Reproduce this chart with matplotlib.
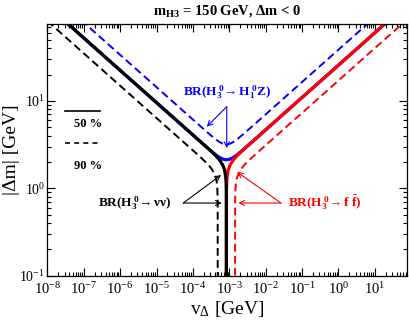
import numpy as np
import matplotlib
matplotlib.use('Agg')
import matplotlib.pyplot as plt
from matplotlib.ticker import LogLocator, NullFormatter

plt.rcParams['font.family'] = ['Liberation Serif', 'DejaVu Serif']
plt.rcParams['mathtext.fontset'] = 'custom'
plt.rcParams['mathtext.rm'] = 'Liberation Serif'
plt.rcParams['mathtext.it'] = 'Liberation Serif:italic'
plt.rcParams['mathtext.bf'] = 'Liberation Serif:bold'

## BR contours (v_Delta [GeV], |dm| [GeV])
nn50_v  = [3.31e-8, 8.32e-8, 8.32e-7, 8.32e-6, 8.32e-5, 1.66e-4, 2.63e-4, 4.17e-4, 5.25e-4, 6.61e-4, 7.41e-4, 7.94e-4, 8.13e-4, 8.26e-4, 8.32e-4]
nn50_dm = [79.4, 56.4, 24.0, 10.25, 4.37, 3.38, 2.85, 2.38, 2.14, 1.85, 1.62, 1.36, 1.20, 0.96, 0.1]
nn90_v  = [1.0e-8, 8.32e-8, 8.32e-7, 8.32e-6, 8.32e-5, 1.66e-4, 2.09e-4, 2.63e-4, 3.31e-4, 4.17e-4, 4.47e-4, 4.57e-4, 4.68e-4, 4.73e-4, 4.79e-4, 4.80e-4]
nn90_dm = [82.4, 37.6, 16.0, 6.82, 2.91, 2.25, 2.05, 1.87, 1.66, 1.37, 1.21, 1.125, 1.00, 0.90, 0.68, 0.1]

ff50_v  = [8.32e-4, 8.38e-4, 8.51e-4, 8.71e-4, 9.33e-4, 1.047e-3, 1.318e-3, 1.660e-3, 2.630e-3, 4.17e-3, 8.32e-3, 8.32e-2, 0.832, 8.32, 20.9]
ff50_dm = [0.1, 0.96, 1.20, 1.36, 1.62, 1.85, 2.14, 2.38, 2.85, 3.38, 4.37, 10.25, 24.0, 56.4, 79.4]
ff90_v  = [1.44e-3, 1.445e-3, 1.462e-3, 1.479e-3, 1.514e-3, 1.549e-3, 1.660e-3, 2.089e-3, 2.630e-3, 3.311e-3, 4.17e-3, 8.32e-3, 8.32e-2, 0.832, 8.32, 83.2]
ff90_dm = [0.1, 0.68, 0.90, 1.00, 1.125, 1.21, 1.37, 1.66, 1.87, 2.05, 2.25, 2.91, 6.82, 16.0, 37.6, 88.0]

hz50_v  = [3.31e-8, 8.32e-8, 8.32e-7, 8.32e-6, 8.32e-5, 2.63e-4, 4.17e-4, 5.25e-4, 6.61e-4, 8.32e-4, 1.047e-3, 1.318e-3, 1.660e-3, 2.630e-3, 8.32e-3, 8.32e-2, 0.832, 8.32, 20.9]
hz50_dm = [79.4, 56.4, 24.0, 10.25, 4.37, 2.86, 2.43, 2.27, 2.16, 2.12, 2.16, 2.27, 2.43, 2.86, 4.37, 10.25, 24.0, 56.4, 79.4]
hz90_v  = [8.32e-8, 8.32e-7, 8.32e-6, 8.32e-5, 2.63e-4, 4.17e-4, 5.25e-4, 6.61e-4, 8.32e-4, 1.047e-3, 1.318e-3, 1.660e-3, 2.630e-3, 8.32e-3, 8.32e-2, 0.832, 8.32]
hz90_dm = [84.7, 36.1, 15.4, 6.56, 4.29, 3.65, 3.41, 3.24, 3.18, 3.24, 3.41, 3.65, 4.29, 6.56, 15.4, 36.1, 84.7]

fig = plt.figure(figsize=(4.09, 3.23), dpi=100)
ax = fig.add_axes([0.1157, 0.1464, 0.8793, 0.7793])

dash = (4, 2.2)
ax.plot(hz50_v, hz50_dm, color='blue', lw=2.3, solid_capstyle='butt')
ax.plot(hz90_v, hz90_dm, color='blue', lw=1.4, dashes=dash)
ax.plot(ff90_v, ff90_dm, color='red', lw=1.4, dashes=dash)
ax.plot(nn90_v, nn90_dm, color='black', lw=1.4, dashes=dash)
ax.plot(ff50_v, ff50_dm, color='red', lw=2.3)
ax.plot(nn50_v, nn50_dm, color='black', lw=2.3)

ax.set_xscale('log')
ax.set_yscale('log')
ax.set_xlim(1e-8, 76)
ax.set_ylim(0.1, 76)

ax.xaxis.set_major_locator(LogLocator(base=10, numticks=20))
ax.xaxis.set_minor_locator(LogLocator(base=10, subs=np.arange(2, 10), numticks=200))
ax.yaxis.set_major_locator(LogLocator(base=10, numticks=20))
ax.yaxis.set_minor_locator(LogLocator(base=10, subs=np.arange(2, 10), numticks=200))
ax.xaxis.set_minor_formatter(NullFormatter())
ax.yaxis.set_minor_formatter(NullFormatter())
ax.tick_params(which='both', direction='in', top=True, right=True, width=0.8, labelsize=10.5)
ax.tick_params(which='major', length=5.8)
ax.tick_params(which='minor', length=3.2)
ax.tick_params(axis='x', which='major', pad=4)
ax.tick_params(axis='y', which='major', pad=1.5, labelsize=10)
for s in ax.spines.values():
    s.set_linewidth(0.9)

ax.set_xlabel(r'v$_\Delta$ [GeV]', fontsize=14, labelpad=1)
ax.set_ylabel('|Δm| [GeV]', fontsize=14)
ax.yaxis.set_label_coords(-0.075, 0.5)
ax.set_title(r'$\mathbf{m_{H3}}$ = 150 GeV, Δm < 0', fontsize=10.5, fontweight='bold', pad=7)

# key for the line styles
ax.plot([0.049, 0.147], [0.6555, 0.6555], color='black', lw=1.2, transform=ax.transAxes)
ax.text(0.113, 0.603, '50 %', transform=ax.transAxes, ha='center', va='center', fontsize=9, fontweight='bold')
ax.plot([0.049, 0.147], [0.526, 0.526], color='black', lw=1.2, dashes=(3, 2.5), transform=ax.transAxes)
ax.text(0.113, 0.436, '90 %', transform=ax.transAxes, ha='center', va='center', fontsize=9, fontweight='bold')

arr = dict(arrowstyle='->', lw=0.8, shrinkA=0, shrinkB=0, mutation_scale=9)

# BR(H3 -> H1 Z)
ax.text(8.65e-4, 12.6, r'$\mathbf{BR(H_3^{\ 0}\!\rightarrow H_1^{\ 0}Z)}$', color='blue',
        ha='center', va='center', fontsize=9.5)
ax.annotate('', xy=(2.39e-4, 5.07), xytext=(8.5e-4, 8.6), arrowprops=dict(arr, color='blue'))
ax.annotate('', xy=(8.5e-4, 2.89), xytext=(8.5e-4, 8.6), arrowprops=dict(arr, color='blue'))

# BR(H3 -> nu nu)
ax.text(2.67e-5, 0.679, r'$\mathbf{BR(H_3^{\ 0}\!\rightarrow \nu\nu)}$', color='black',
        ha='right', va='center', fontsize=9.5)
ax.annotate('', xy=(6.18e-4, 0.679), xytext=(5.44e-5, 0.679), arrowprops=dict(arr, color='black'))
ax.annotate('', xy=(5.92e-4, 1.42), xytext=(5.44e-5, 0.679), arrowprops=dict(arr, color='black'))

# BR(H3 -> f f)
ax.text(0.041, 0.679, r'$\mathbf{BR(H_3^{\ 0}\!\rightarrow f\ \bar{f})}$', color='red',
        ha='left', va='center', fontsize=9.5)
ax.annotate('', xy=(1.77e-3, 0.679), xytext=(0.0263, 0.679), arrowprops=dict(arr, color='red'))
ax.annotate('', xy=(1.63e-3, 1.54), xytext=(0.0263, 0.679), arrowprops=dict(arr, color='red'))

plt.savefig('out.png', dpi=100)
